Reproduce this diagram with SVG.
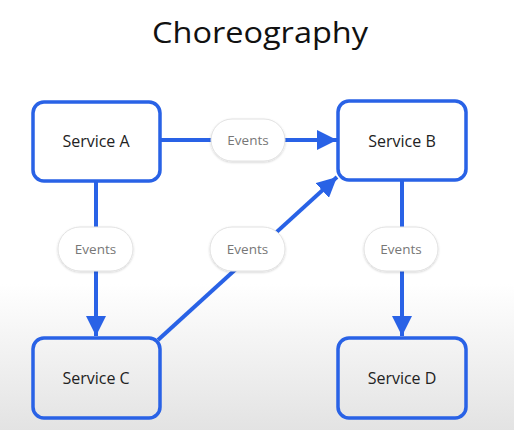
<svg xmlns="http://www.w3.org/2000/svg" width="514" height="430" viewBox="0 0 514 430">
  <defs>
    <linearGradient id="bg" x1="0" y1="0" x2="0" y2="1">
      <stop offset="0" stop-color="#ffffff"/>
      <stop offset="0.66" stop-color="#ffffff"/>
      <stop offset="1" stop-color="#e3e3e3"/>
    </linearGradient>
    <marker id="arrow" markerUnits="userSpaceOnUse" markerWidth="20" markerHeight="20" viewBox="0 0 18 18" refX="18" refY="9" orient="auto">
      <path d="M0,0 L18,9 L0,18 Z" fill="#2962e6"/>
    </marker>
    <filter id="sh" x="-20%" y="-30%" width="140%" height="160%">
      <feDropShadow dx="0" dy="1" stdDeviation="1.2" flood-color="#000" flood-opacity="0.18"/>
    </filter>
  </defs>
  <style>
    .box { fill: #ffffff; stroke: #2962e6; stroke-width: 3.5; }
    .boxlow { fill: none; stroke: #2962e6; stroke-width: 3.5; }
    .label { font-family: "Open Sans", Roboto, "Liberation Sans", sans-serif; font-size: 16px; fill: #222222; text-anchor: middle; }
    .edge { stroke: #2962e6; stroke-width: 4; fill: none; }
    .pill { fill: #ffffff; stroke: #e2e2e2; stroke-width: 1; }
    .ev { font-family: "Open Sans", Roboto, "Liberation Sans", sans-serif; font-size: 13.5px; fill: #777777; text-anchor: middle; }
    .title { font-family: "Open Sans", Roboto, "Liberation Sans", sans-serif; font-size: 30px; font-weight: 500; fill: #111111; text-anchor: middle; }
  </style>
  <rect width="514" height="430" fill="url(#bg)"/>
  <text class="title" x="260" y="43" textLength="216" lengthAdjust="spacingAndGlyphs">Choreography</text>

  <g id="connectors">
    <line class="edge" x1="160" y1="140" x2="337" y2="140" marker-end="url(#arrow)"/>
    <line class="edge" x1="96" y1="181" x2="96" y2="336" marker-end="url(#arrow)"/>
    <line class="edge" x1="158" y1="340" x2="337" y2="177" marker-end="url(#arrow)"/>
    <line class="edge" x1="402" y1="180" x2="402" y2="336" marker-end="url(#arrow)"/>
    <g id="pill-ab">
      <rect class="pill" x="211" y="119" width="74" height="42" rx="21" filter="url(#sh)"/>
      <text class="ev" x="248" y="144.5">Events</text>
    </g>
    <g id="pill-ac">
      <rect class="pill" x="58" y="227" width="75" height="44" rx="22" filter="url(#sh)"/>
      <text class="ev" x="95.5" y="253.5">Events</text>
    </g>
    <g id="pill-cb">
      <rect class="pill" x="210" y="227" width="75" height="44" rx="22" filter="url(#sh)"/>
      <text class="ev" x="247.5" y="253.5">Events</text>
    </g>
    <g id="pill-bd">
      <rect class="pill" x="364" y="227" width="74" height="44" rx="22" filter="url(#sh)"/>
      <text class="ev" x="401" y="253.5">Events</text>
    </g>
  </g>

  <g id="service-a">
    <rect class="box" x="33" y="102" width="127" height="79" rx="11"/>
    <text class="label" x="96" y="146.5">Service A</text>
  </g>
  <g id="service-b">
    <rect class="box" x="338" y="101" width="128" height="79" rx="11"/>
    <text class="label" x="402" y="146.5">Service B</text>
  </g>
  <g id="service-c">
    <rect class="boxlow" x="33" y="338" width="127" height="80" rx="11"/>
    <text class="label" x="96" y="383.5">Service C</text>
  </g>
  <g id="service-d">
    <rect class="boxlow" x="338" y="338" width="128" height="80" rx="11"/>
    <text class="label" x="402" y="383.5">Service D</text>
  </g>
</svg>
